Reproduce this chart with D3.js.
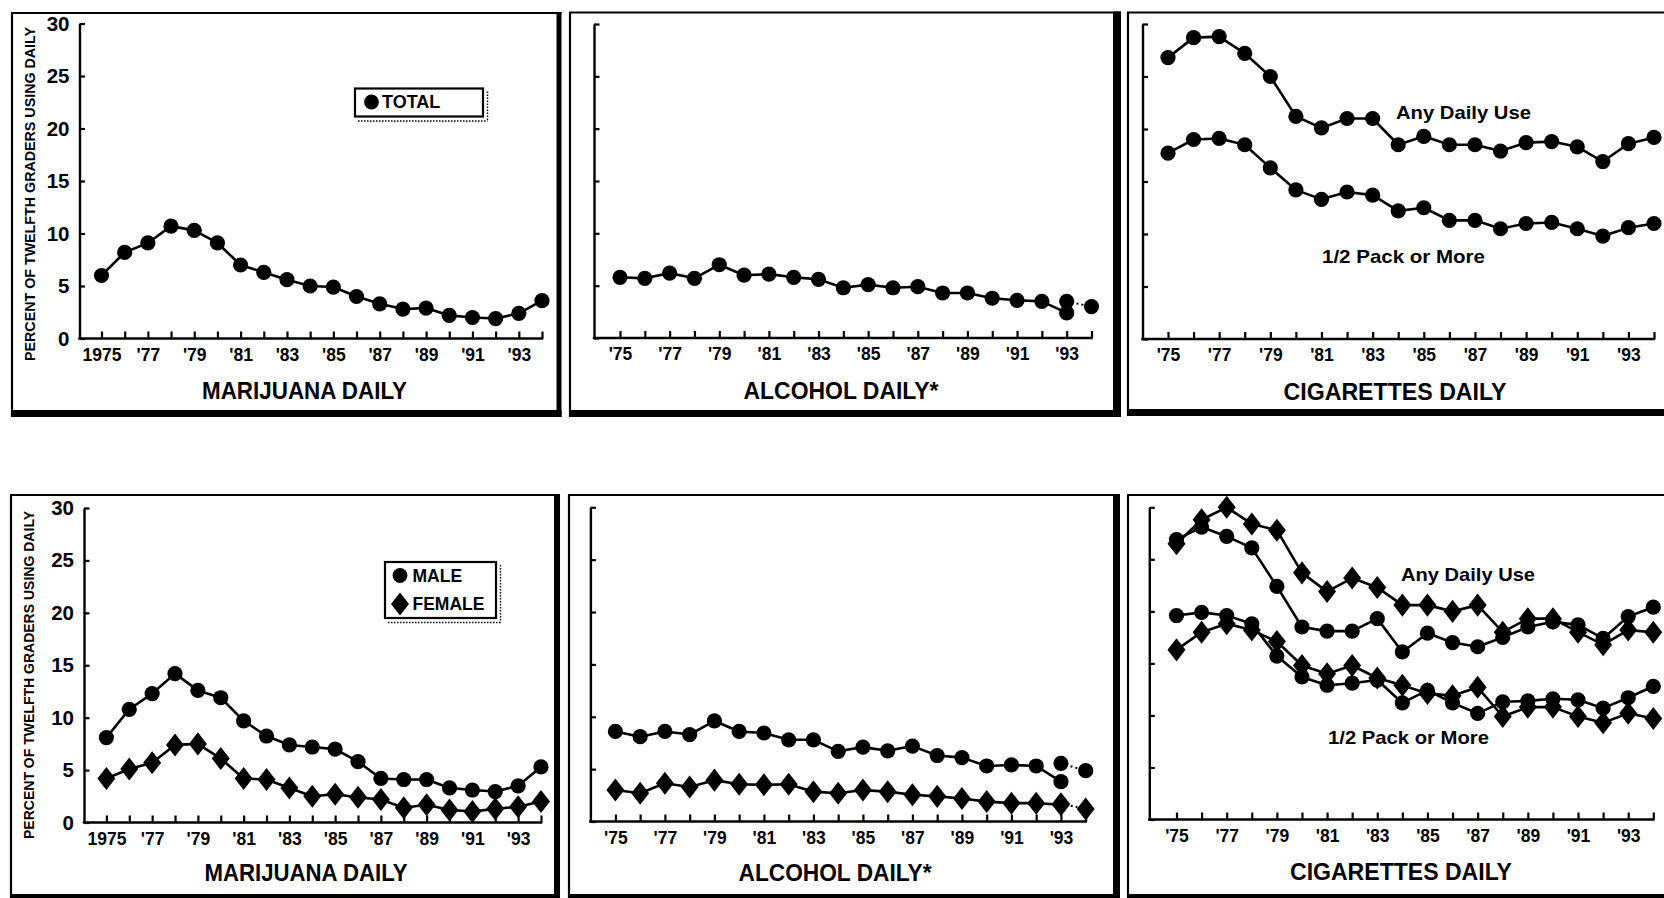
<!DOCTYPE html>
<html><head><meta charset="utf-8">
<script src="https://cdn.jsdelivr.net/npm/d3@7"></script>
<style>
html,body{margin:0;padding:0;background:#fff;}
svg{display:block;}
text{font-family:"Liberation Sans",Arial,Helvetica,sans-serif;font-weight:bold;fill:#000;}
</style></head><body>
<svg id="chart" width="1664" height="898"></svg>
<script>
// ---------------- DATA ----------------
const years = [1975,1976,1977,1978,1979,1980,1981,1982,1983,1984,1985,1986,1987,1988,1989,1990,1991,1992,1993,1994];
const oldYears = [1975,1976,1977,1978,1979,1980,1981,1982,1983,1984,1985,1986,1987,1988,1989,1990,1991,1992,1993];
const revisedYears = [1993,1994];
const yTickValues = [0,5,10,15,20,25,30];
const labelYears = [1975,1977,1979,1981,1983,1985,1987,1989,1991,1993];
const xLabelsMarijuana = ["1975","'77","'79","'81","'83","'85","'87","'89","'91","'93"];
const xLabelsShort = ["'75","'77","'79","'81","'83","'85","'87","'89","'91","'93"];

// Top row: total
const marijuanaTotal = [6.0,8.2,9.1,10.7,10.3,9.1,7.0,6.3,5.6,5.0,4.9,4.0,3.3,2.8,2.9,2.2,2.0,1.9,2.4,3.6];
const alcoholTotal = [5.8,5.7,6.2,5.7,7.0,6.0,6.1,5.8,5.6,4.8,5.1,4.8,4.9,4.3,4.3,3.8,3.6,3.5,2.4];
const alcoholTotalRevised = [3.5,3.0];
const cigAnyTotal = [26.8,28.7,28.8,27.2,25.0,21.2,20.1,21.0,21.0,18.5,19.3,18.5,18.5,17.9,18.7,18.8,18.3,16.9,18.6,19.2];
const cigHalfTotal = [17.7,19.0,19.1,18.5,16.3,14.2,13.3,14.0,13.7,12.2,12.5,11.3,11.3,10.5,11.0,11.1,10.5,9.8,10.6,11.0];

// Bottom row: male / female
const marijuanaMale = [8.1,10.8,12.3,14.2,12.6,11.9,9.7,8.25,7.4,7.2,7.0,5.8,4.2,4.1,4.1,3.3,3.1,2.95,3.5,5.3];
const marijuanaFemale = [4.2,5.1,5.7,7.4,7.5,6.1,4.2,4.1,3.3,2.5,2.7,2.4,2.2,1.4,1.7,1.2,1.05,1.3,1.5,2.0];
const alcoholMale = [8.6,8.1,8.6,8.3,9.6,8.6,8.45,7.8,7.8,6.7,7.1,6.75,7.2,6.3,6.1,5.3,5.4,5.3,3.8];
const alcoholMaleRevised = [5.55,4.85];
const alcoholFemale = [3.0,2.7,3.65,3.3,3.95,3.55,3.5,3.55,2.85,2.7,3.0,2.85,2.55,2.4,2.2,1.9,1.75,1.75,1.6];
const alcoholFemaleRevised = [1.7,1.2];
const cigAnyMale = [26.9,28.1,27.2,26.1,22.4,18.5,18.1,18.1,19.3,16.1,17.9,17.0,16.6,17.5,18.5,19.0,18.7,17.4,19.5,20.4];
const cigAnyFemale = [26.5,28.8,30.0,28.4,27.8,23.7,21.9,23.2,22.3,20.6,20.6,20.0,20.6,18.0,19.3,19.3,18.0,16.8,18.2,18.0];
const cigHalfMale = [19.6,19.9,19.6,18.8,15.7,13.7,12.9,13.1,13.4,11.2,12.4,11.2,10.2,11.3,11.4,11.6,11.5,10.7,11.7,12.8];
const cigHalfFemale = [16.3,18.0,18.8,18.2,17.1,14.8,14.0,14.8,13.6,12.9,12.1,11.9,12.7,9.9,10.8,10.8,9.9,9.3,10.2,9.7];

const yAxisTitle = "PERCENT OF TWELFTH GRADERS USING DAILY";

// ---------------- HELPERS ----------------
const svg = d3.select("#chart");
const zip = (xs, vs) => xs.map((yr, i) => ({year: yr, v: vs[i]}));

const diamondType = {
  draw(ctx, size) {
    const h = Math.sqrt(size) * 0.72, w = h * 0.78;
    ctx.moveTo(0, -h); ctx.lineTo(w, 0); ctx.lineTo(0, h); ctx.lineTo(-w, 0); ctx.closePath();
  }
};
const diamondPath = d3.symbol().type(diamondType).size(256)();

function drawMarkers(g, pts, x, y, shape) {
  if (shape === "circle") {
    g.selectAll(null).data(pts).join("circle")
      .attr("cx", d => x(d.year)).attr("cy", d => y(d.v)).attr("r", 7.6).attr("fill", "#000");
  } else {
    g.selectAll(null).data(pts).join("path")
      .attr("d", diamondPath)
      .attr("transform", d => `translate(${x(d.year)},${y(d.v)})`).attr("fill", "#000");
  }
}
function drawSeries(g, pts, x, y, shape, dashed) {
  const line = d3.line().x(d => x(d.year)).y(d => y(d.v));
  g.append("path").datum(pts).attr("d", line).attr("fill", "none")
    .attr("stroke", "#000").attr("stroke-width", dashed ? 2 : 2.6)
    .attr("stroke-dasharray", dashed ? "2,3" : null).attr("stroke-linejoin", "round");
}

function drawFrame(f) {
  const g = svg.append("g");
  g.append("line").attr("x1", f.l).attr("x2", f.l).attr("y1", f.t).attr("y2", f.b + f.bw)
    .attr("stroke", "#000").attr("stroke-width", 2.2);
  g.append("line").attr("x1", f.l - 1).attr("x2", f.r + f.rw).attr("y1", f.t).attr("y2", f.t)
    .attr("stroke", "#000").attr("stroke-width", 2.2);
  g.append("rect").attr("x", f.r).attr("y", f.t - 1).attr("width", f.rw).attr("height", f.b + f.bw - f.t + 1).attr("fill", "#000");
  g.append("rect").attr("x", f.l - 1).attr("y", f.b).attr("width", f.r + f.rw - f.l + 1).attr("height", f.bw).attr("fill", "#000");
}

function drawPanel(c) {
  drawFrame(c.frame);
  const x = d3.scaleLinear().domain([1975, 1994]).range([c.x75, c.x94]);
  const y = d3.scaleLinear().domain([0, 30]).range([c.y0, c.yTop]);
  const g = svg.append("g");

  // y axis
  const ya = d3.axisLeft(y).tickValues(yTickValues).tickSizeInner(-5.5).tickSizeOuter(0)
    .tickPadding(c.yLabels ? 10 : 0).tickFormat(c.yLabels ? d3.format("d") : () => "");
  const gy = g.append("g").attr("transform", `translate(${c.yAxisX},0)`).call(ya);
  gy.select(".domain").attr("stroke-width", 2.4);
  gy.selectAll(".tick line").attr("stroke-width", 2.2);
  gy.selectAll(".tick text").attr("font-size", 20.5).attr("font-family", "Liberation Sans, Arial, sans-serif").attr("font-weight", "bold");

  // x axis
  const lblMap = new Map(labelYears.map((yr, i) => [yr, c.xLabels[i]]));
  const xa = d3.axisBottom(x).tickValues(years).tickSizeInner(-7).tickSizeOuter(0)
    .tickPadding(10).tickFormat(d => lblMap.get(d) || "");
  const gx = g.append("g").attr("transform", `translate(0,${c.y0})`).call(xa);
  gx.select(".domain").remove();
  gx.selectAll(".tick line").attr("stroke-width", 2.2);
  gx.selectAll(".tick text").attr("font-size", 17.5).attr("font-family", "Liberation Sans, Arial, sans-serif").attr("font-weight", "bold");
  g.append("line").attr("x1", c.yAxisX - 1.2).attr("x2", x(1994) + 1.2).attr("y1", c.y0).attr("y2", c.y0)
    .attr("stroke", "#000").attr("stroke-width", 2.6);

  // title
  g.append("text").attr("x", c.title.cx).attr("y", c.title.base).attr("text-anchor", "middle")
    .attr("font-size", 24.5).attr("textLength", c.title.len).attr("lengthAdjust", "spacingAndGlyphs")
    .text(c.title.text);

  // y axis title
  if (c.yTitle) {
    g.append("text").attr("transform", `translate(${c.yTitle.cx},${c.yTitle.cy}) rotate(-90)`)
      .attr("text-anchor", "middle").attr("dy", "0.36em").attr("font-size", 14.5)
      .attr("textLength", c.yTitle.len).attr("lengthAdjust", "spacingAndGlyphs").text(yAxisTitle);
  }

  // series
  c.series.forEach(s => drawSeries(g, zip(s.years, s.values), x, y, s.shape, s.dashed));
  c.series.forEach(s => drawMarkers(g, zip(s.years, s.values), x, y, s.shape));

  // annotations
  (c.notes || []).forEach(n => {
    g.append("text").attr("x", n.x).attr("y", n.base).attr("font-size", 19)
      .attr("textLength", n.len).attr("lengthAdjust", "spacingAndGlyphs").text(n.text);
  });

  // legend
  if (c.legend) {
    const L = c.legend;
    const lg = g.append("g");
    lg.append("line").attr("x1", L.x + L.w + 4.5).attr("x2", L.x + L.w + 4.5).attr("y1", L.y + 3).attr("y2", L.y + L.h + 4.5)
      .attr("stroke", "#000").attr("stroke-width", 1.4).attr("stroke-dasharray", "1.5,1.5");
    lg.append("line").attr("x1", L.x + 3).attr("x2", L.x + L.w + 4.5).attr("y1", L.y + L.h + 4.5).attr("y2", L.y + L.h + 4.5)
      .attr("stroke", "#000").attr("stroke-width", 1.4).attr("stroke-dasharray", "1.5,1.5");
    lg.append("rect").attr("x", L.x).attr("y", L.y).attr("width", L.w).attr("height", L.h)
      .attr("fill", "#fff").attr("stroke", "#000").attr("stroke-width", 2.2);
    L.items.forEach((it, i) => {
      const cy = L.y + L.first + i * L.step;
      if (it.shape === "circle") lg.append("circle").attr("cx", L.x + L.mx).attr("cy", cy).attr("r", 7.4);
      else lg.append("path").attr("d", diamondPath).attr("transform", `translate(${L.x + L.mx},${cy})`);
      lg.append("text").attr("x", L.x + L.tx).attr("y", cy + 6.4).attr("font-size", L.fs).text(it.label);
    });
  }
}

// ---------------- PANELS ----------------
const panels = [
  { frame: {l: 12, t: 13, r: 556.5, b: 410, rw: 5, bw: 7},
    yAxisX: 79.5, yTop: 23.5, y0: 338.5, x75: 101.5, x94: 542, yLabels: true, xLabels: xLabelsMarijuana,
    yTitle: {cx: 30, cy: 194, len: 334},
    title: {text: "MARIJUANA DAILY", cx: 304.5, base: 399, len: 205},
    series: [{years: years, values: marijuanaTotal, shape: "circle"}],
    legend: {x: 355, y: 88.5, w: 128, h: 28, mx: 16.5, tx: 27, first: 13.5, step: 0, fs: 18,
             items: [{shape: "circle", label: "TOTAL"}]} },
  { frame: {l: 570, t: 12.5, r: 1113, b: 410, rw: 8, bw: 7},
    yAxisX: 594, yTop: 24, y0: 338, x75: 620, x94: 1091.5, yLabels: false, xLabels: xLabelsShort,
    title: {text: "ALCOHOL DAILY*", cx: 841, base: 399, len: 195},
    series: [{years: oldYears, values: alcoholTotal, shape: "circle"},
             {years: revisedYears, values: alcoholTotalRevised, shape: "circle", dashed: true}] },
  { frame: {l: 1128, t: 12.5, r: 1690, b: 409, rw: 5, bw: 7},
    yAxisX: 1142.5, yTop: 24, y0: 339, x75: 1168, x94: 1654, yLabels: false, xLabels: xLabelsShort,
    title: {text: "CIGARETTES DAILY", cx: 1395, base: 400, len: 223},
    series: [{years: years, values: cigAnyTotal, shape: "circle"},
             {years: years, values: cigHalfTotal, shape: "circle"}],
    notes: [{text: "Any Daily Use", x: 1396, base: 118.5, len: 135},
            {text: "1/2 Pack or More", x: 1322, base: 263, len: 163}] },
  { frame: {l: 11, t: 495, r: 554, b: 894, rw: 6, bw: 4},
    yAxisX: 84, yTop: 508, y0: 822.5, x75: 106.4, x94: 541, yLabels: true, xLabels: xLabelsMarijuana,
    yTitle: {cx: 28.5, cy: 675, len: 328},
    title: {text: "MARIJUANA DAILY", cx: 306, base: 881, len: 203},
    series: [{years: years, values: marijuanaMale, shape: "circle"},
             {years: years, values: marijuanaFemale, shape: "diamond"}],
    legend: {x: 385, y: 562, w: 111, h: 56, mx: 15, tx: 27.5, first: 13.5, step: 28.5, fs: 17.5,
             items: [{shape: "circle", label: "MALE"}, {shape: "diamond", label: "FEMALE"}]} },
  { frame: {l: 569, t: 495, r: 1113, b: 894, rw: 7, bw: 4},
    yAxisX: 590.4, yTop: 507.3, y0: 821.5, x75: 615.4, x94: 1085.7, yLabels: false, xLabels: xLabelsShort,
    title: {text: "ALCOHOL DAILY*", cx: 835, base: 881, len: 193},
    series: [{years: oldYears, values: alcoholMale, shape: "circle"},
             {years: revisedYears, values: alcoholMaleRevised, shape: "circle", dashed: true},
             {years: oldYears, values: alcoholFemale, shape: "diamond"},
             {years: revisedYears, values: alcoholFemaleRevised, shape: "diamond", dashed: true}] },
  { frame: {l: 1128, t: 495, r: 1690, b: 894, rw: 5, bw: 4},
    yAxisX: 1149.3, yTop: 507.3, y0: 819.5, x75: 1176.5, x94: 1653.3, yLabels: false, xLabels: xLabelsShort,
    title: {text: "CIGARETTES DAILY", cx: 1401, base: 880, len: 222},
    series: [{years: years, values: cigAnyMale, shape: "circle"},
             {years: years, values: cigAnyFemale, shape: "diamond"},
             {years: years, values: cigHalfMale, shape: "circle"},
             {years: years, values: cigHalfFemale, shape: "diamond"}],
    notes: [{text: "Any Daily Use", x: 1401, base: 581, len: 134},
            {text: "1/2 Pack or More", x: 1328, base: 743.5, len: 161}] }
];

panels.forEach(drawPanel);
</script>
</body></html>
